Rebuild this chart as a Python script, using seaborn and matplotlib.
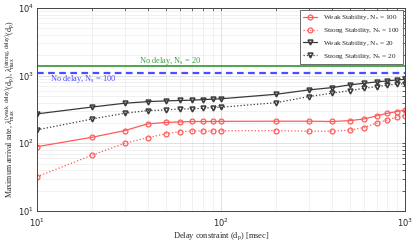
import numpy as np
import pandas as pd
import matplotlib
matplotlib.use("Agg")
import matplotlib.pyplot as plt
import seaborn as sns

# delay constraint d_p [msec]
delay = [10, 20, 30, 40, 50, 60, 70, 80, 90, 100,
         200, 300, 400, 500, 600, 700, 800, 900, 1000]

weak_100 = [89, 123, 154, 194, 203, 207, 210, 210, 210, 211,
            212, 212, 210, 216, 229, 254, 278, 294, 311]
strong_100 = [32, 67, 100, 121, 138, 149, 152, 152, 152, 153,
              154, 151, 151, 156, 171, 198, 222, 243, 257]
weak_20 = [272, 344, 391, 413, 423, 430, 434, 443, 448, 455,
           531, 615, 665, 730, 772, 808, 836, 863, 885]
strong_20 = [158, 229, 278, 304, 311, 322, 322, 330, 337, 341,
             399, 490, 550, 600, 650, 689, 722, 747, 762]

no_delay_20 = 1405
no_delay_100 = 1108

sns.set_style("whitegrid")
plt.rcParams["font.family"] = ["Liberation Serif", "DejaVu Serif"]
plt.rcParams["mathtext.fontset"] = "custom"
plt.rcParams["mathtext.rm"] = "Liberation Serif"
plt.rcParams["mathtext.it"] = "Liberation Serif:italic"

fig = plt.figure(figsize=(4.15, 2.43), dpi=100)
ax = fig.add_axes([0.089, 0.132, 0.887, 0.835])

red = "#ff5a5a"
dark = "#3a3a3a"

sns.lineplot(x=delay, y=weak_100, ax=ax, color=red, lw=0.9, ls="-",
             marker="o", ms=3.5, mfc="none", mec=red, mew=0.9,
             label=r"Weak Stability, $\mathregular{N_s}$ = 100")
sns.lineplot(x=delay, y=strong_100, ax=ax, color=red, lw=0.9, ls=":",
             marker="o", ms=3.5, mfc="none", mec=red, mew=0.9,
             label=r"Strong Stability, $\mathregular{N_s}$ = 100")
sns.lineplot(x=delay, y=weak_20, ax=ax, color=dark, lw=0.9, ls="-",
             marker="v", ms=3.5, mfc="none", mec=dark, mew=1.1,
             label=r"Weak Stability, $\mathregular{N_s}$ = 20")
sns.lineplot(x=delay, y=strong_20, ax=ax, color=dark, lw=0.9, ls=":",
             marker="v", ms=3.5, mfc="none", mec=dark, mew=1.1,
             label=r"Strong Stability, $\mathregular{N_s}$ = 20")

ax.axhline(no_delay_20, color="#3f9f3f", lw=1.3)
ax.axhline(no_delay_100, color="#4d4dff", lw=1.6, ls=(0, (3, 2)))
ax.text(36, no_delay_20 * 1.1, r"No delay, $\mathregular{N_s}$ = 20",
        color="#3f9f3f", fontsize=6)
ax.text(11.8, no_delay_100 * 0.76, r"No delay, $\mathregular{N_s}$ = 100",
        color="#4d4dff", fontsize=6)

ax.set_xscale("log")
ax.set_yscale("log")
ax.set_xlim(10, 1000)
ax.set_ylim(10, 10000)

ax.grid(True, which="major", color="#dcdcdc", lw=0.6)
ax.grid(True, which="minor", color="#ececec", lw=0.5)
for sp in ax.spines.values():
    sp.set_color("#444444")
    sp.set_linewidth(0.7)
ax.tick_params(which="both", direction="in", length=2.5, width=0.5,
               labelsize=6, top=True, right=True)
ax.tick_params(axis="x", pad=4)
ax.tick_params(axis="y", pad=2)
for lab in ax.get_xticklabels() + ax.get_yticklabels():
    lab.set_family("DejaVu Sans")

ax.set_xlabel(r"Delay constraint (d$_\mathregular{p}$) [msec]", fontsize=6, labelpad=1)
ax.set_ylabel(r"Maximum arrival rate, $\lambda_\mathregular{max}^\mathregular{(weak,\ delay)}$"
              r"(d$_\mathregular{p}$), $\lambda_\mathregular{max}^\mathregular{(strong,\ delay)}$"
              r"(d$_\mathregular{p}$)", fontsize=5.8, labelpad=1)

leg = ax.legend(loc="upper right", fontsize=5.2, frameon=True, fancybox=False,
                framealpha=1, edgecolor="#555555", handlelength=2.0,
                borderpad=0.4, labelspacing=0.55, borderaxespad=0.3)
leg.get_frame().set_linewidth(0.6)

fig.savefig("out.png", dpi=100)
